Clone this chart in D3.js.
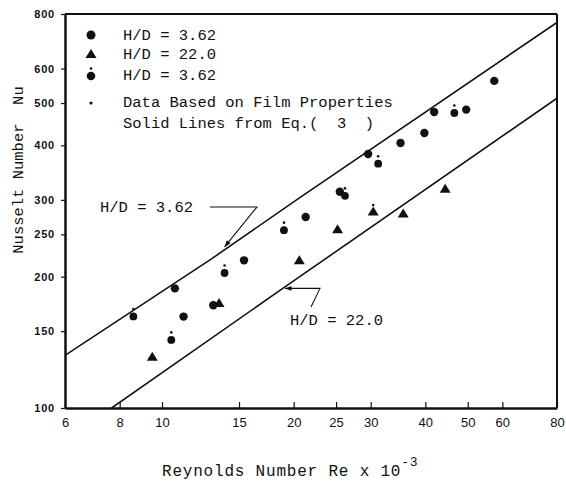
<!DOCTYPE html>
<html>
<head>
<meta charset="utf-8">
<script src="https://cdn.jsdelivr.net/npm/d3@7"></script>
<style>
  body { margin: 0; background: #fff; }
  svg { display: block; }
  .mono { font-family: 'Liberation Mono', 'DejaVu Sans Mono', monospace; fill: #111; }
</style>
</head>
<body>
<script>
// H/D = 3.62, filled circles
const reA = [10.7, 11.2, 13.1, 15.4, 21.3, 25.5, 29.6, 35.1, 39.8, 41.9, 49.6, 57.5]
const nuA = [188, 162, 172, 218, 274, 313, 382, 405, 427, 477, 483, 562]
// H/D = 3.62, film properties (circle with dot)
const reB = [8.6, 10.5, 13.9, 19.0, 26.2, 31.2, 46.6]
const nuB = [163, 144, 205, 257, 308, 365, 477]
// H/D = 22.0, triangles
const reC = [9.5, 13.5, 20.6, 25.2, 35.6, 44.4]
const nuC = [131, 174, 218, 257, 279, 318]
// H/D = 22.0, film properties (triangle with dot)
const reD = [30.4]
const nuD = [282]
// solid lines from Eq.(3)
const lineA = [[6, 132], [13, 220], [20.5, 302], [80, 765]]
const lineC = [[7.67, 100], [18.6, 186], [80, 513]]
// ticks
const xTicks = [6, 8, 10, 15, 20, 25, 30, 40, 50, 60, 80]
const yTicks = [100, 150, 200, 250, 300, 400, 500, 600, 800]
const legendItems = ['H/D = 3.62', 'H/D = 22.0', 'H/D = 3.62']

const W = 566, H = 490
const svg = d3.select('body').append('svg').attr('width', W).attr('height', H)

const x = d3.scaleLog().domain([6, 80]).range([65, 557])
const y = d3.scaleLog().domain([100, 800]).range([408, 14])

// frame top / right
svg.append('line').attr('x1', x(6)).attr('x2', x(80)).attr('y1', y(800)).attr('y2', y(800))
  .attr('stroke', '#111').attr('stroke-width', 2)
svg.append('line').attr('x1', x(80)).attr('x2', x(80)).attr('y1', y(800)).attr('y2', y(100))
  .attr('stroke', '#111').attr('stroke-width', 2)

// axes
const gx = svg.append('g').attr('transform', `translate(0,${y(100)})`)
  .call(d3.axisBottom(x).tickValues(xTicks).tickFormat(d3.format('d'))
    .tickSizeInner(-6).tickSizeOuter(0).tickPadding(10))
gx.select('.domain').attr('stroke-width', 2.5).attr('stroke', '#111')
gx.selectAll('.tick line').attr('stroke', '#111').attr('stroke-width', 1.2)
gx.selectAll('text').attr('font-family', 'Liberation Sans, Arial, sans-serif')
  .attr('font-size', 13).attr('fill', '#111')

const gy = svg.append('g').attr('transform', `translate(${x(6)},0)`)
  .call(d3.axisLeft(y).tickValues(yTicks).tickFormat(d3.format('d'))
    .tickSizeInner(4).tickSizeOuter(0).tickPadding(6))
gy.select('.domain').attr('stroke-width', 2.5).attr('stroke', '#111')
gy.selectAll('.tick line').attr('stroke', '#111').attr('stroke-width', 1.2)
gy.selectAll('text').attr('font-family', 'Liberation Sans, Arial, sans-serif')
  .attr('font-size', 11).attr('font-weight', 'bold').attr('letter-spacing', 0.8).attr('fill', '#111')

// correlation lines
svg.append('clipPath').attr('id', 'plot').append('rect')
  .attr('x', x(6)).attr('y', y(800)).attr('width', x(80) - x(6)).attr('height', y(100) - y(800))
const line = d3.line().x(d => x(d[0])).y(d => y(d[1]))
svg.selectAll('path.eq').data([lineA, lineC]).join('path').attr('class', 'eq')
  .attr('d', line).attr('fill', 'none').attr('stroke', '#111').attr('stroke-width', 1.6)
  .attr('clip-path', 'url(#plot)')

// markers
const tri = (cx, cy) => `M${cx},${cy - 5}L${cx + 5.5},${cy + 4}L${cx - 5.5},${cy + 4}Z`
const pts = (re, nu) => re.map((r, i) => [r, nu[i]])

svg.selectAll('circle.a').data(pts(reA, nuA)).join('circle').attr('class', 'a')
  .attr('cx', d => x(d[0])).attr('cy', d => y(d[1])).attr('r', 4.2).attr('fill', '#111')
svg.selectAll('circle.b').data(pts(reB, nuB)).join('circle').attr('class', 'b')
  .attr('cx', d => x(d[0])).attr('cy', d => y(d[1]) + 1).attr('r', 3.9).attr('fill', '#111')
svg.selectAll('path.c').data(pts(reC, nuC).concat(pts(reD, nuD))).join('path').attr('class', 'c')
  .attr('d', d => tri(x(d[0]), y(d[1]))).attr('fill', '#111')
// film-property dots
svg.selectAll('circle.dot').data(pts(reB, nuB).concat(pts(reD, nuD))).join('circle').attr('class', 'dot')
  .attr('cx', d => x(d[0])).attr('cy', d => y(d[1]) - 6.5).attr('r', 1.3).attr('fill', '#111')

// legend
const lx = 91, ly = [35, 54, 75]
svg.append('circle').attr('cx', lx).attr('cy', ly[0]).attr('r', 4.5).attr('fill', '#111')
svg.append('path').attr('d', tri(lx, ly[1])).attr('fill', '#111')
svg.append('circle').attr('cx', lx).attr('cy', ly[2] + 1).attr('r', 4.3).attr('fill', '#111')
svg.append('circle').attr('cx', lx).attr('cy', ly[2] - 6.5).attr('r', 1.3).attr('fill', '#111')
svg.append('circle').attr('cx', lx).attr('cy', 103).attr('r', 1.6).attr('fill', '#111')
svg.selectAll('text.leg').data(legendItems).join('text').attr('class', 'leg mono')
  .attr('x', 123).attr('y', (d, i) => ly[i] + 5).attr('font-size', 15.5).text(d => d)
svg.append('text').attr('class', 'mono').attr('x', 123).attr('y', 107).attr('font-size', 15.5)
  .text('Data Based on Film Properties')
svg.append('text').attr('class', 'mono').attr('x', 123).attr('y', 128).attr('font-size', 15.5)
  .attr('xml:space', 'preserve').text('Solid Lines from Eq.(  3  )')

// line annotations with leaders
const arrowHead = (tx, ty, fx, fy) => {
  const a = Math.atan2(ty - fy, tx - fx), L = 7, s = 0.35
  return `M${tx},${ty}L${tx - L * Math.cos(a - s)},${ty - L * Math.sin(a - s)}L${tx - L * Math.cos(a + s)},${ty - L * Math.sin(a + s)}Z`
}
svg.append('text').attr('class', 'mono').attr('x', 100).attr('y', 212).attr('font-size', 15.5).text('H/D = 3.62')
const tipA = [x(13.9), y(234)]
svg.append('path').attr('d', `M210,207L257,207L${tipA[0]},${tipA[1]}`)
  .attr('fill', 'none').attr('stroke', '#111').attr('stroke-width', 1.1)
svg.append('path').attr('d', arrowHead(tipA[0], tipA[1], 257, 207)).attr('fill', '#111')

svg.append('text').attr('class', 'mono').attr('x', 290).attr('y', 325).attr('font-size', 15.5).text('H/D = 22.0')
const tipC = [x(19.1), y(188)]
svg.append('path').attr('d', `M${tipC[0]},${tipC[1]}L320,${tipC[1]}L311,307`)
  .attr('fill', 'none').attr('stroke', '#111').attr('stroke-width', 1.1)
svg.append('path').attr('d', arrowHead(tipC[0], tipC[1], 320, tipC[1])).attr('fill', '#111')

// axis titles
svg.append('text').attr('class', 'mono').attr('font-size', 15.5).attr('text-anchor', 'middle')
  .attr('transform', 'translate(23,170) rotate(-90)').attr('xml:space', 'preserve')
  .text('Nusselt Number  Nu')
const xt = svg.append('text').attr('class', 'mono').attr('x', 162).attr('y', 476)
  .attr('font-size', 16).attr('letter-spacing', 0.8)
xt.append('tspan').text('Reynolds Number Re x 10')
xt.append('tspan').attr('dy', -10).attr('font-size', 13).text('-3')
</script>
</body>
</html>
